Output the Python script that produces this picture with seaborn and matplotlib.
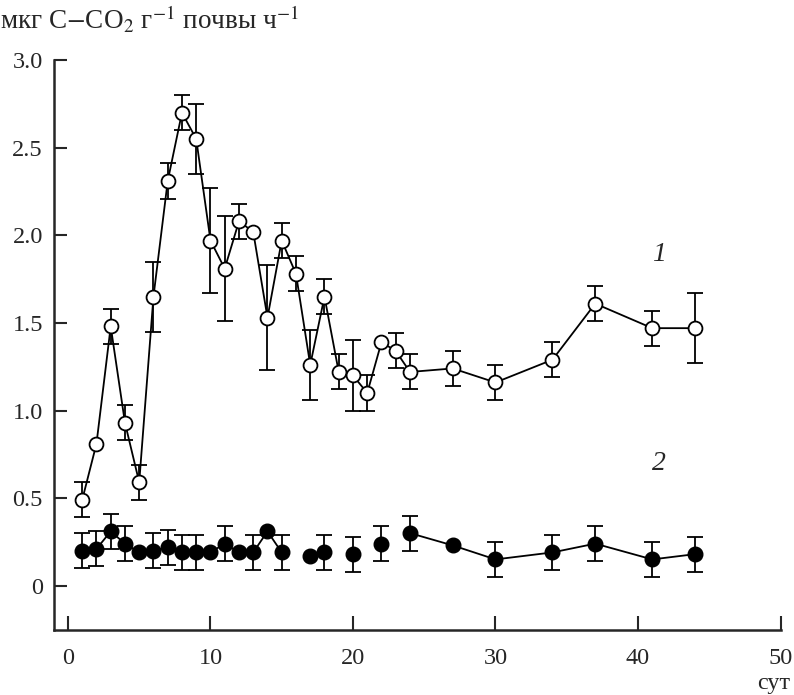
import numpy as np
import pandas as pd
import seaborn as sns
import matplotlib.pyplot as plt

nan = np.nan

# series 1 (open circles)
days1 = [1, 2, 3, 4, 5, 6, 7, 8, 9, 10, 11, 12, 13, 14, 15, 16, 17, 18, 19, 20,
         21, 22, 23, 24, 27, 30, 34, 37, 41, 44]
val1 = [0.49, 0.81, 1.48, 0.93, 0.59, 1.65, 2.31, 2.70, 2.55, 1.97, 1.81, 2.08,
        2.02, 1.53, 1.97, 1.78, 1.26, 1.65, 1.22, 1.20, 1.10, 1.39, 1.34, 1.22,
        1.24, 1.16, 1.29, 1.61, 1.47, 1.47]
err1 = [0.10, nan, 0.10, 0.10, 0.10, 0.20, 0.10, 0.10, 0.20, 0.30, 0.30, 0.10,
        nan, 0.30, 0.10, 0.10, 0.20, 0.10, 0.10, 0.20, 0.10, nan, 0.10, 0.10,
        0.10, 0.10, 0.10, 0.10, 0.10, 0.20]

# series 2 (filled circles)
days2 = [1, 2, 3, 4, 5, 6, 7, 8, 9, 10, 11, 12, 13, 14, 15, 17, 18, 20, 22, 24,
         27, 30, 34, 37, 41, 44]
val2 = [0.20, 0.21, 0.31, 0.24, 0.19, 0.20, 0.22, 0.19, 0.19, 0.19, 0.24, 0.19,
        0.19, 0.31, 0.19, 0.17, 0.19, 0.18, 0.24, 0.30, 0.23, 0.15, 0.19, 0.24,
        0.15, 0.18]
err2 = [0.10, 0.10, 0.10, 0.10, nan, 0.10, 0.10, 0.10, 0.10, nan, 0.10, nan,
        0.10, nan, 0.10, nan, 0.10, 0.10, 0.10, 0.10, nan, 0.10, 0.10, 0.10,
        0.10, 0.10]

xticks = [0, 10, 20, 30, 40, 50]
yticks = [0, 0.5, 1.0, 1.5, 2.0, 2.5, 3.0]
ytick_labels = ["0", "0.5", "1.0", "1.5", "2.0", "2.5", "3.0"]

sns.set_style("ticks")
plt.rcParams['font.family'] = ['Liberation Serif', 'DejaVu Serif']
plt.rcParams['mathtext.fontset'] = 'stix'

df1 = pd.DataFrame({"day": days1, "val": val1, "err": err1})
df2 = pd.DataFrame({"day": days2, "val": val2, "err": err2})

fig = plt.figure(figsize=(7.94, 6.95), dpi=100)
ax = fig.add_axes([0.068, 0.0935, 0.915, 0.820])

# error bars
for d in (df1, df2):
    ax.errorbar(d["day"], d["val"], yerr=d["err"], fmt='none', ecolor='black',
                elinewidth=1.3, capsize=6, capthick=1.3, zorder=1)

# series 1: connected line with open circles
sns.lineplot(data=df1, x="day", y="val", ax=ax, color='black', linewidth=1.3,
             estimator=None, sort=False, marker='o', markersize=10,
             markerfacecolor='white', markeredgecolor='black',
             markeredgewidth=1.3, zorder=3)

# series 2: line only over the first and last stretch
seg_a = df2[df2["day"] <= 15]
seg_b = df2[df2["day"] >= 24]
for seg in (seg_a, seg_b):
    sns.lineplot(data=seg, x="day", y="val", ax=ax, color='black', linewidth=1.3,
                 estimator=None, sort=False, zorder=2)
ax.plot(df2["day"], df2["val"], linestyle='none', marker='o', markersize=10.5,
        markerfacecolor='black', markeredgecolor='black', zorder=3)

ax.text(41.5, 1.89, "1", fontsize=20, style='italic', ha='center', va='center')
ax.text(41.5, 0.70, "2", fontsize=20, style='italic', ha='center', va='center')

ax.set_xlim(-0.98, 50)
ax.set_ylim(-0.253, 3.0)
ax.set_xticks(xticks)
ax.set_xticklabels([str(t) for t in xticks])
ax.set_yticks(yticks)
ax.set_yticklabels(ytick_labels)
ax.tick_params(axis='x', direction='in', length=10, width=1.5, pad=13, labelsize=17.5)
ax.tick_params(axis='y', direction='in', length=9, width=1.5, pad=8, labelsize=17.5)
sns.despine(ax=ax)
for s in ("left", "bottom"):
    ax.spines[s].set_linewidth(1.8)
ax.set_xlabel("")
ax.set_ylabel("")

fig.text(0.0, 1 - 20 / 695, "мкг C$-$CO$_2$ г$^{-1}$ почвы ч$^{-1}$",
         fontsize=19.5, ha='left', va='center')
fig.text(790 / 794, 1 - 683 / 695, "сут", fontsize=17.5, ha='right', va='center')

plt.savefig("out.png", dpi=100)
